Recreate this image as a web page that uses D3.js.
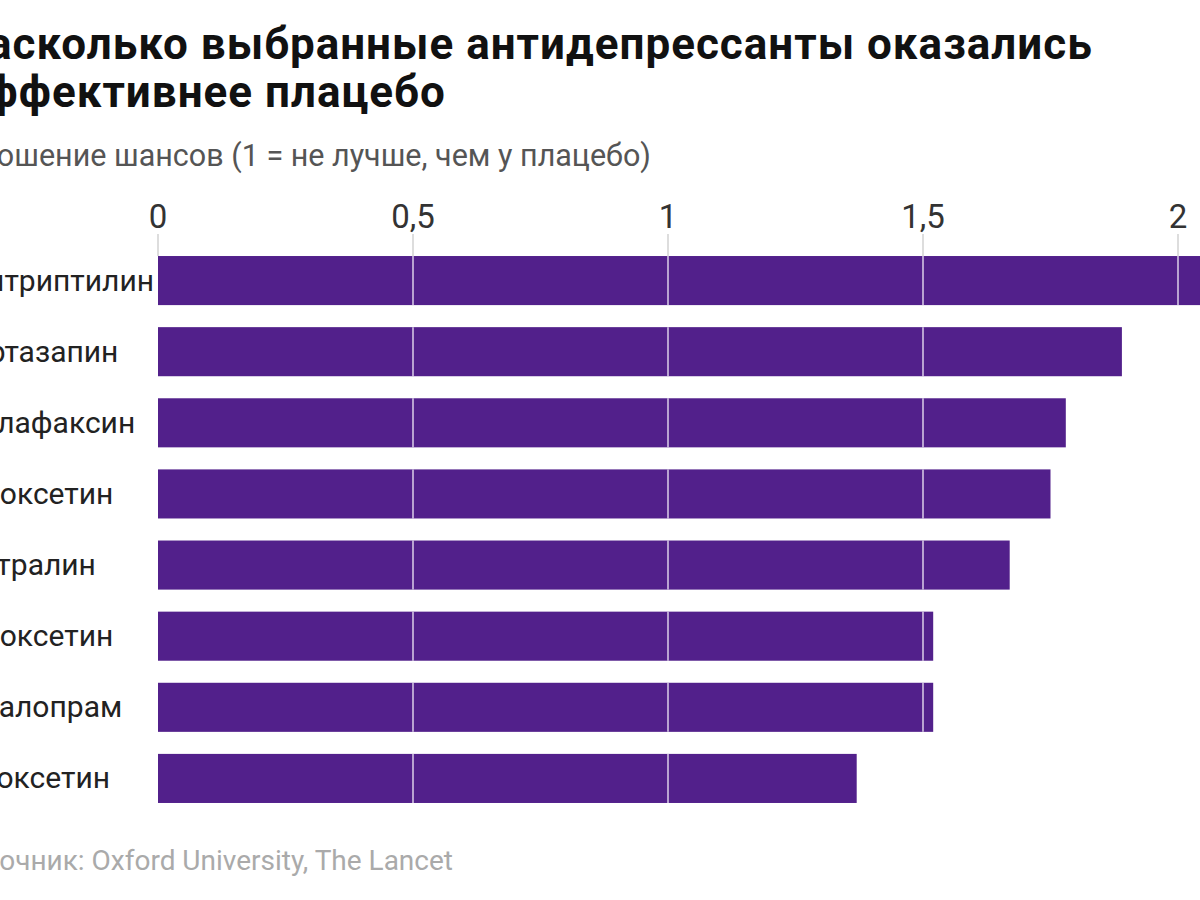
<!DOCTYPE html>
<html>
<head>
<meta charset="utf-8">
<script src="https://cdn.jsdelivr.net/npm/d3@7"></script>
<style>
  html, body { margin: 0; padding: 0; background: #fff; overflow: hidden; }
  svg { display: block; font-family: Roboto, "Noto Sans", sans-serif; }
</style>
</head>
<body>
<svg id="chart" width="1200" height="900"></svg>
<script>
const titleLines = ["Насколько выбранные антидепрессанты оказались", "Эффективнее плацебо"];
const subtitle = "Отношение шансов (1 = не лучше, чем у плацебо)";
const source = "Источник: Oxford University, The Lancet";
const drugs = ["Амитриптилин", "Миртазапин", "Венлафаксин", "Пароксетин", "Сертралин", "Флуоксетин", "Циталопрам", "Ребоксетин"];
const oddsRatios = [2.13, 1.89, 1.78, 1.75, 1.67, 1.52, 1.52, 1.37];
const tickValues = [0, 0.5, 1, 1.5, 2];
const tickLabels = ["0", "0,5", "1", "1,5", "2"];

const svg = d3.select("#chart");

const x = d3.scaleLinear().domain([0, 2]).range([158, 1178]);
const y = d3.scaleBand().domain(drugs).range([245, 814]).paddingInner(0.31).paddingOuter(0.155);

// Title
svg.selectAll("text.title").data(titleLines).join("text")
  .attr("class", "title")
  .attr("x", -44)
  .attr("y", (d, i) => 59 + i * 48)
  .attr("font-size", 44)
  .attr("font-weight", 700)
  .attr("letter-spacing", 1)
  .attr("fill", "#111")
  .text(d => d);

svg.append("text")
  .attr("x", 651).attr("y", 166)
  .attr("text-anchor", "end")
  .attr("font-size", 30.5)
  .attr("fill", "#555")
  .text(subtitle);

// Bars
svg.append("g").selectAll("rect").data(drugs).join("rect")
  .attr("x", x(0))
  .attr("y", d => y(d))
  .attr("width", (d, i) => x(oddsRatios[i]) - x(0))
  .attr("height", y.bandwidth())
  .attr("fill", "#52208b");

// Grid lines drawn only across the bars
const gridTicks = tickValues.filter(v => v > 0);
const gridSegs = drugs.flatMap((d, i) => gridTicks.filter(t => t < oddsRatios[i]).map(t => ({ d, t })));
svg.append("g").selectAll("line").data(gridSegs).join("line")
  .attr("x1", s => x(s.t)).attr("x2", s => x(s.t))
  .attr("y1", s => y(s.d)).attr("y2", s => y(s.d) + y.bandwidth())
  .attr("stroke", "#f1eaf7").attr("stroke-width", 1.3);

// Tick marks above the bars
svg.append("g").selectAll("line").data(tickValues).join("line")
  .attr("x1", d => x(d)).attr("x2", d => x(d))
  .attr("y1", 234).attr("y2", y(drugs[0]))
  .attr("stroke", "#bbb").attr("stroke-width", 1);

// Axis labels at top
svg.append("g").selectAll("text").data(tickValues).join("text")
  .attr("x", d => x(d))
  .attr("y", 228)
  .attr("text-anchor", "middle")
  .attr("font-size", 33)
  .attr("fill", "#333")
  .text((d, i) => tickLabels[i]);

// Category labels: left-aligned at a common x so the longest ends next to the bars
const labels = svg.append("g").selectAll("text").data(drugs).join("text")
  .attr("y", d => y(d) + y.bandwidth() / 2 + 10)
  .attr("font-size", 30)
  .attr("fill", "#222")
  .text(d => d);
let maxW = 0;
labels.each(function () { maxW = Math.max(maxW, this.getComputedTextLength()); });
labels.attr("x", x(0) - 4 - maxW);

// Source
svg.append("text")
  .attr("x", 453).attr("y", 870)
  .attr("text-anchor", "end")
  .attr("font-size", 28)
  .attr("fill", "#aaa")
  .text(source);
</script>
</body>
</html>
